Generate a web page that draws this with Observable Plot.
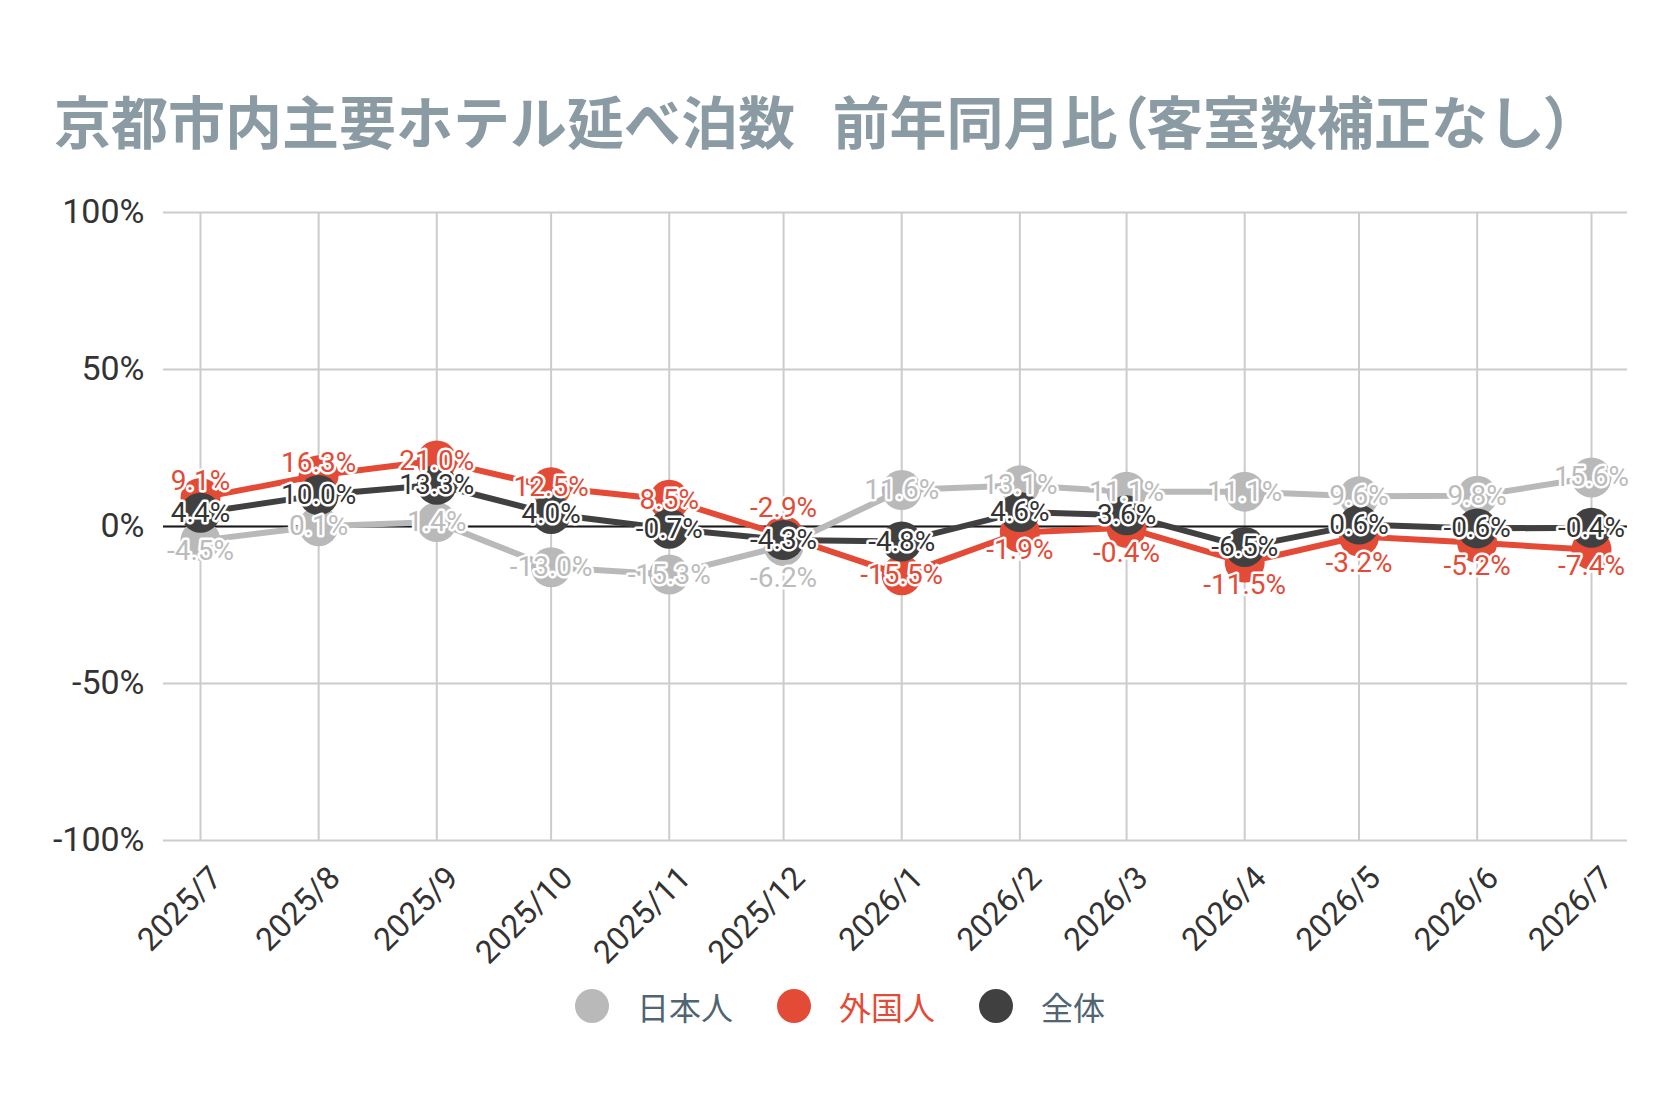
<!DOCTYPE html>
<html><head><meta charset="utf-8">
<script src="https://cdn.jsdelivr.net/npm/d3@7"></script>
<script src="https://cdn.jsdelivr.net/npm/@observablehq/plot@0.6"></script>
<style>
body{margin:0;background:#fff;width:1680px;font-family:"Noto Sans CJK JP",sans-serif;}
#title{position:relative;height:180px;}
#title h1{position:absolute;left:54px;top:89px;margin:0;font-size:57px;line-height:60px;font-weight:700;color:#8b9ba4;white-space:pre;}
#title .gap{letter-spacing:-0.34em;}
#title .p{font-feature-settings:"palt";}
#chart{height:800px;}
#legend{display:flex;justify-content:center;align-items:center;height:60px;gap:44px;margin-top:-4px;}
.item{display:flex;align-items:center;gap:28px;font-size:32px;line-height:40px;color:#4f6572;}
.sw{width:34px;height:34px;border-radius:50%;}
</style>
</head><body>
<div id="title"><h1>京都市内主要ホテル延べ泊数<span class="gap">　</span>前年同月比<span class="p">（</span>客室数補正なし<span class="p">）</span></h1></div>
<div id="chart"></div>
<div id="legend"></div>
<script>
const months = ["2025-07","2025-08","2025-09","2025-10","2025-11","2025-12","2026-01","2026-02","2026-03","2026-04","2026-05","2026-06","2026-07"];
const tickLabels = ["2025/7","2025/8","2025/9","2025/10","2025/11","2025/12","2026/1","2026/2","2026/3","2026/4","2026/5","2026/6","2026/7"];
const seriesNames = ["日本人","外国人","全体"];
const japanese = [-4.5, 0.1, 1.4, -13.0, -15.3, -6.2, 11.6, 13.1, 11.1, 11.1, 9.6, 9.8, 15.6];
const foreign  = [9.1, 16.3, 21.0, 12.5, 8.5, -2.9, -15.5, -1.9, -0.4, -11.5, -3.2, -5.2, -7.4];
const total    = [4.4, 10.0, 13.3, 4.0, -0.7, -4.3, -4.8, 4.6, 3.6, -6.5, 0.6, -0.6, -0.4];
const yTicks = [-100, -50, 0, 50, 100];

const colors = ["#b9b9b9", "#e34b37", "#404040"];
const labelColors = ["#bcbcbc", "#e34b37", "#333333"];

const dates = months.map(m => new Date(m + "-01T00:00:00Z"));
const seriesValues = [japanese, foreign, total];

const W = 1680, H = 800, mT = 32, mB = 140, mL = 163, mR = 53;
const pxPer = (H - mT - mB) / 200;
// label collision layout (pixels): 全体 label stays on its point,
// others are pushed away from it when they would overlap
const thrAbove = 22, thrBelow = 30, gapAbove = 32, gapBelow = 38;

const rows = [];
seriesNames.forEach((s, si) => {
  seriesValues[si].forEach((v, i) => {
    const t = total[i];
    let ly = v;
    if (si !== 2) {
      const gap = (v - t) * pxPer;
      if (gap >= 0 && gap < thrAbove) ly = t + gapAbove / pxPer;
      else if (gap < 0 && -gap < thrBelow) ly = t - gapBelow / pxPer;
    }
    rows.push({date: dates[i], series: s, si, value: v, ly, text: v.toFixed(1) + "%"});
  });
});

const marks = [
  Plot.gridY(yTicks, {stroke: "#cccccc", strokeOpacity: 1, strokeWidth: 2}),
  Plot.gridX(dates, {stroke: "#cccccc", strokeOpacity: 1, strokeWidth: 2}),
  Plot.ruleY([0], {stroke: "#1a1a1a", strokeWidth: 2}),
];
seriesNames.forEach((s, si) => {
  const d = rows.filter(r => r.si === si);
  marks.push(Plot.line(d, {x: "date", y: "value", stroke: colors[si], strokeWidth: 6}));
  marks.push(Plot.dot(d, {x: "date", y: "value", r: 20, fill: colors[si], stroke: null}));
});
seriesNames.forEach((s, si) => {
  const d = rows.filter(r => r.si === si);
  marks.push(Plot.text(d, {x: "date", y: "ly", text: "text", fill: labelColors[si], stroke: "white", strokeWidth: 5, fontSize: 28, paintOrder: "stroke"}));
});
marks.push(Plot.axisY(yTicks, {tickSize: 0, tickPadding: 19, fontSize: 34, tickFormat: d => d + "%", color: "#333", label: null}));
marks.push(Plot.axisX(dates, {tickSize: 0, tickRotate: -45, tickPadding: 32, dx: 16, fontSize: 32, color: "#333", label: null,
  tickFormat: d => tickLabels[dates.findIndex(t => +t === +d)]}));

const chart = Plot.plot({
  width: W, height: H,
  marginTop: mT, marginBottom: mB, marginLeft: mL, marginRight: mR,
  x: {type: "utc", domain: [dates[0], dates[dates.length - 1]], insetLeft: 37, insetRight: 36},
  y: {domain: [-100, 100]},
  style: {fontFamily: "Roboto, 'Noto Sans CJK JP', sans-serif", background: "#fff", overflow: "visible"},
  marks
});
document.getElementById("chart").appendChild(chart);

const legend = document.getElementById("legend");
seriesNames.forEach((s, si) => {
  const it = document.createElement("div");
  it.className = "item";
  if (si === 1) it.style.color = colors[1];
  const sw = document.createElement("span");
  sw.className = "sw";
  sw.style.background = colors[si];
  const tx = document.createElement("span");
  tx.textContent = s;
  it.appendChild(sw); it.appendChild(tx);
  legend.appendChild(it);
});
</script>
</body></html>
